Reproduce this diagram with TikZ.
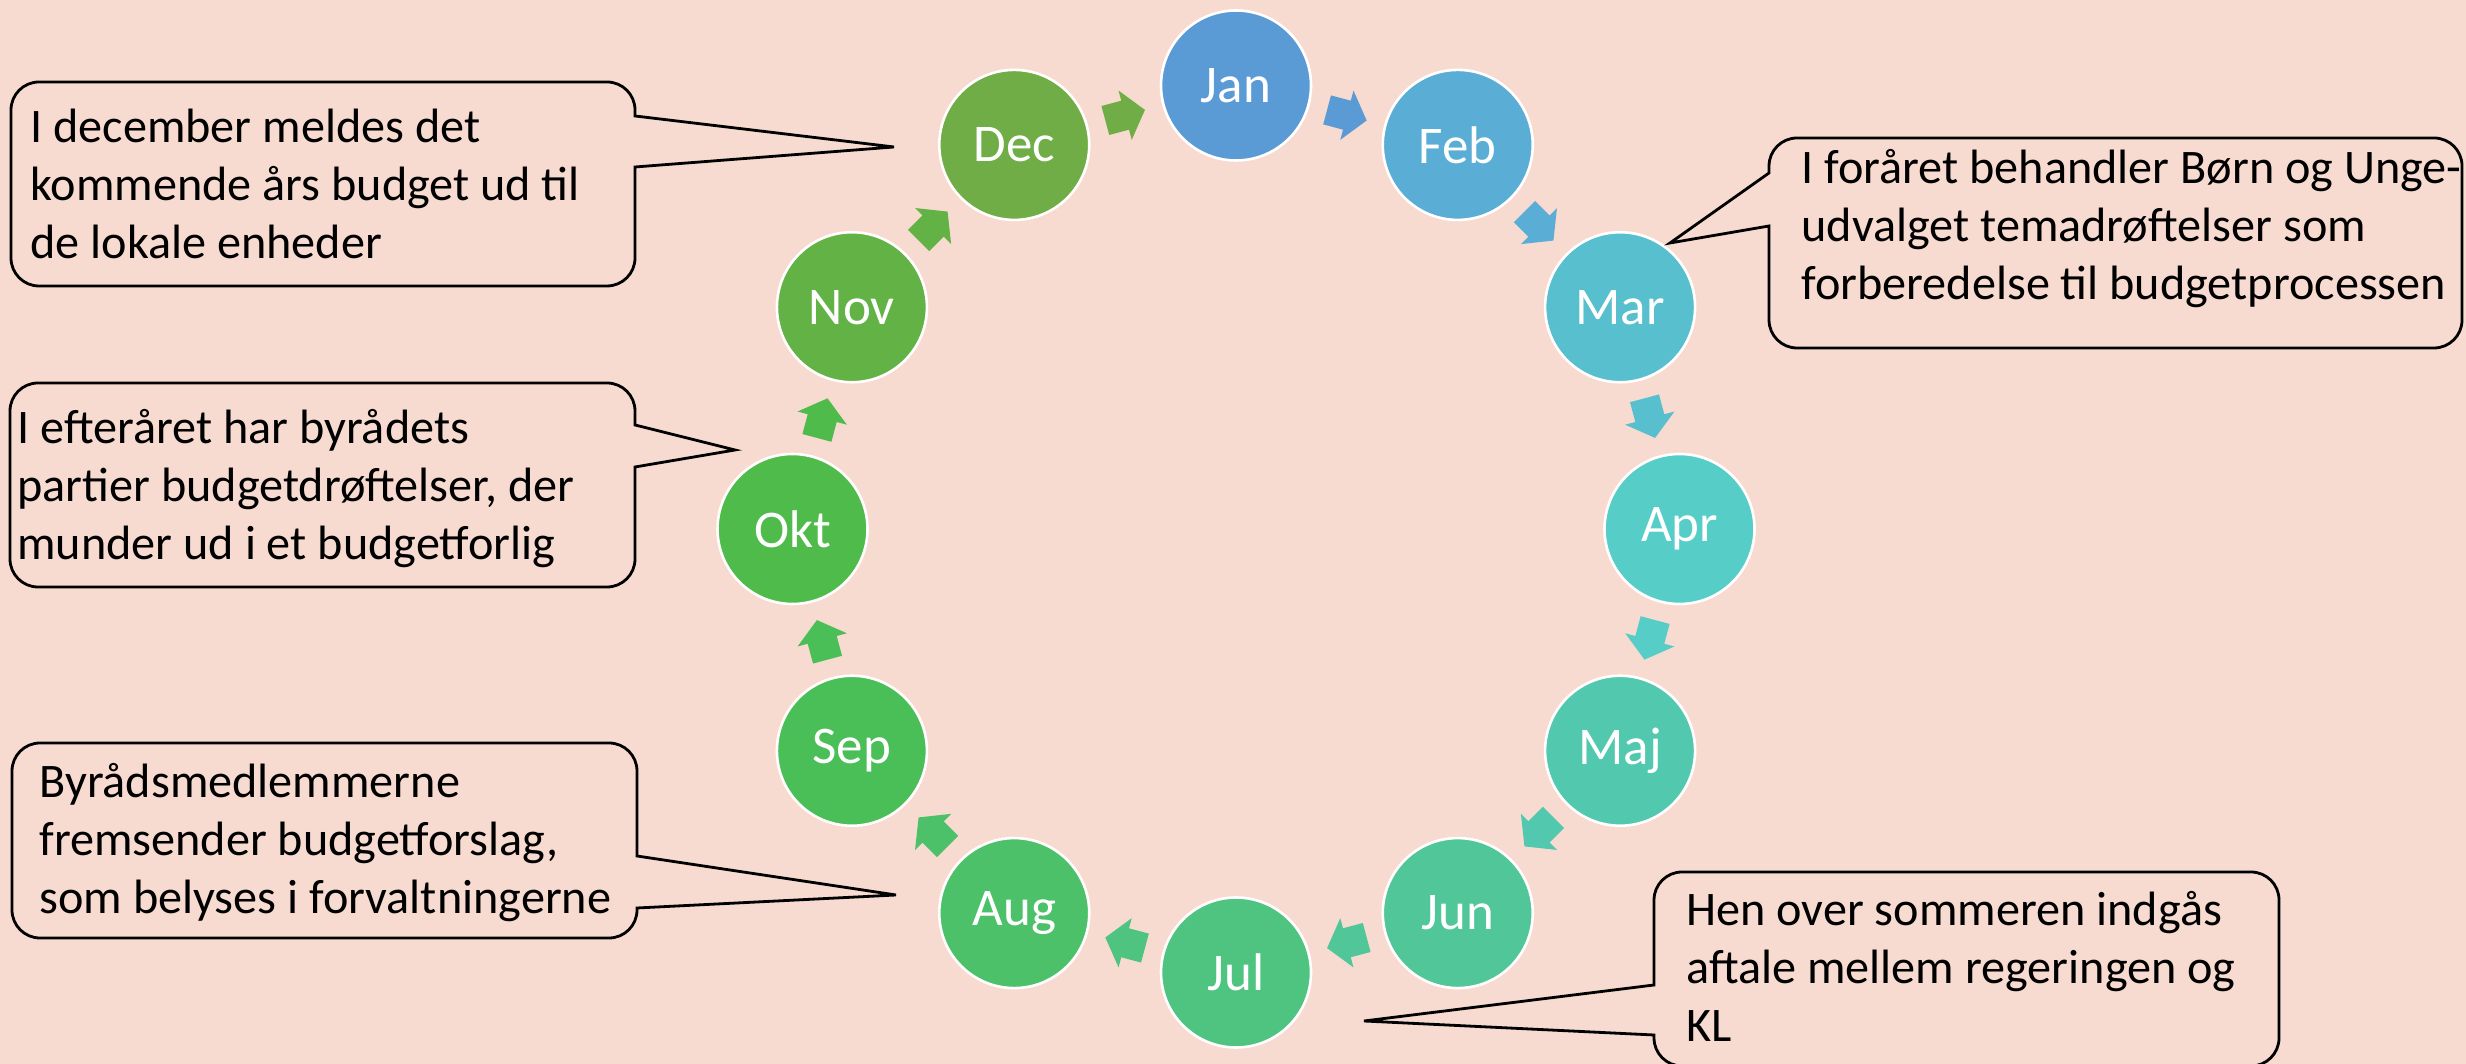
\documentclass[tikz,border=0pt]{standalone}
\usepackage{fontspec}
\setmainfont{Carlito}
\usetikzlibrary{calc}
\definecolor{bg}{HTML}{F7DBD0}
\definecolor{cJan}{HTML}{5B9BD5}
\definecolor{cFeb}{HTML}{5AADD5}
\definecolor{cMar}{HTML}{57BFCD}
\definecolor{cApr}{HTML}{56CDC7}
\definecolor{cMaj}{HTML}{52C9AF}
\definecolor{cJun}{HTML}{50C699}
\definecolor{cJul}{HTML}{4FC480}
\definecolor{cAug}{HTML}{4CC169}
\definecolor{cSep}{HTML}{4ABE57}
\definecolor{cOkt}{HTML}{4EBB4A}
\definecolor{cNov}{HTML}{62B246}
\definecolor{cDec}{HTML}{70AD47}
\tikzset{
  month/.style={circle, minimum size=75pt, inner sep=0pt, draw=white, line width=1.3pt,
    text=white, font={\fontsize{26.5pt}{30pt}\selectfont}},
  callout/.style={draw=black, line width=1.4pt},
  ctext/.style={align=left, inner sep=0pt, text=black, font={\fontsize{24.1pt}{29pt}\selectfont}}
}
% right-pointing callout: L,T,R,B, pointer top y, tip name, pointer bottom y
\newcommand{\rcall}[7]{%
  \draw[callout] ({#1+28},#2) -- ({#3-28},#2) arc[start angle=90,end angle=0,radius=14pt]
    -- (#3,#5) -- (#6) -- (#3,#7) -- (#3,{#4+28}) arc[start angle=0,end angle=-90,radius=14pt]
    -- ({#1+28},#4) arc[start angle=-90,end angle=-180,radius=14pt]
    -- (#1,{#2-28}) arc[start angle=180,end angle=90,radius=14pt] -- cycle;}
% left-pointing callout: L,T,R,B, pointer top y, tip name, pointer bottom y
\newcommand{\lcall}[7]{%
  \draw[callout] ({#1+28},#2) -- ({#3-28},#2) arc[start angle=90,end angle=0,radius=14pt]
    -- (#3,{#4+28}) arc[start angle=0,end angle=-90,radius=14pt]
    -- ({#1+28},#4) arc[start angle=-90,end angle=-180,radius=14pt]
    -- (#1,#7) -- (#6) -- (#1,#5)
    -- (#1,{#2-28}) arc[start angle=180,end angle=90,radius=14pt] -- cycle;}
\begin{document}
\begin{tikzpicture}[x=0.5pt,y=0.5pt]
\fill[bg] (0,0) rectangle (2466,1064);
\useasboundingbox (0,0) rectangle (2466,1064);
\coordinate (ring) at (1236,535);
% month circles
\foreach \nm/\lab/\col [count=\i from 0] in
  {jan/Jan/cJan, feb/Feb/cFeb, mar/Mar/cMar, apr/Apr/cApr, maj/Maj/cMaj, jun/Jun/cJun,
   jul/Jul/cJul, aug/Aug/cAug, sep/Sep/cSep, okt/Okt/cOkt, nov/Nov/cNov, dec/Dec/cDec}
  \node[month, fill=\col] (\nm) at ($(ring)+({90-30*\i}:443.5)$) {\lab};
% block arrows between consecutive months
\foreach \a/\b/\col [count=\i from 0] in
  {jan/feb/cJan, feb/mar/cFeb, mar/apr/cMar, apr/maj/cApr, maj/jun/cMaj, jun/jul/cJun,
   jul/aug/cJul, aug/sep/cAug, sep/okt/cSep, okt/nov/cOkt, nov/dec/cNov, dec/jan/cDec}
  {\begin{scope}[shift={($(\a)!0.5!(\b)$)}, rotate={-15-30*\i}]
     \fill[\col] (-20.5,-15) -- (0,-15) -- (0,-25.5) -- (20.5,0) -- (0,25.5) -- (0,15) -- (-20.5,15) -- cycle;
   \end{scope}}
% callout tips
\coordinate (tipDec) at (894,917);
\coordinate (tipOkt) at (735,614);
\coordinate (tipAug) at (896,169);
\coordinate (tipMar) at (1670,821);
\coordinate (tipJul) at (1364,43);
% callouts
\rcall{11}{982}{635}{778}{948}{tipDec}{897}
\rcall{10}{681}{635}{477}{639}{tipOkt}{597}
\rcall{12}{321}{637}{126}{208}{tipAug}{156}
\lcall{1769}{926}{2462}{716}{891}{tipMar}{838}
\lcall{1654}{192}{2279}{-2}{79}{tipJul}{29}
% callout texts (base anchor = last line's baseline)
\node[ctext, anchor=base west] (tDec) at (30,805) {I december meldes det\\kommende års budget ud til\\de lokale enheder};
\node[ctext, anchor=base west] (tOkt) at (17,504) {I efteråret har byrådets\\partier budgetdrøftelser, der\\munder ud i et budgetforlig};
\node[ctext, anchor=base west] (tAug) at (39,150) {Byrådsmedlemmerne\\fremsender budgetforslag,\\som belyses i forvaltningerne};
\node[ctext, anchor=base west] (tMar) at (1801,764) {I foråret behandler Børn og Unge-\\udvalget temadrøftelser som\\forberedelse til budgetprocessen};
\node[ctext, anchor=base west] (tJul) at (1686,22) {Hen over sommeren indgås\\aftale mellem regeringen og\\KL};
\end{tikzpicture}
\end{document}
